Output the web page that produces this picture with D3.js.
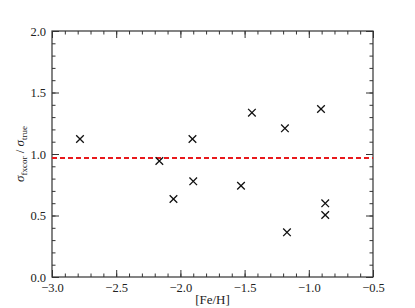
<!DOCTYPE html>
<html lang="en">
<head>
    <meta charset="UTF-8">
    <title>sigma ratio vs [Fe/H]</title>
    <script src="https://d3js.org/d3.v7.min.js"></script>
    <style>
        body { margin: 0; background: #fff; }
        svg text { font-family: "Liberation Serif", "Times New Roman", serif !important; fill: #222; }
    </style>
</head>
<body>
    <div id="chart"></div>
    <script>
        // data
        const feh = [-2.782, -2.164, -2.054, -1.906, -1.900, -1.528, -1.443, -1.186, -1.170, -0.905, -0.872, -0.872];
        const ratio = [1.122, 0.943, 0.634, 1.122, 0.778, 0.742, 1.336, 1.209, 0.363, 1.366, 0.599, 0.504];
        const meanRatio = 0.967;
        const xTicks = [-3.0, -2.5, -2.0, -1.5, -1.0, -0.5];
        const yTicks = [0.0, 0.5, 1.0, 1.5, 2.0];

        const width = 415, height = 308;
        const margin = { left: 52, right: 42, top: 31, bottom: 31 };

        const svg = d3.select("#chart").append("svg")
            .attr("width", width)
            .attr("height", height);

        const x = d3.scaleLinear().domain([-3, -0.5]).range([margin.left, width - margin.right]);
        const y = d3.scaleLinear().domain([0, 2]).range([height - margin.bottom, margin.top]);

        const axisColor = "#333";
        const minorX = d3.range(-3, -0.49, 0.1);
        const minorY = d3.range(0, 2.01, 0.1);

        // bottom / top axes, ticks pointing inward
        const bottomAxis = svg.append("g").attr("transform", `translate(0,${y(0)})`);
        bottomAxis.call(d3.axisTop(x).tickValues(minorX).tickSize(3.5).tickFormat(""));
        bottomAxis.append("g").call(d3.axisTop(x).tickValues(xTicks).tickSize(7).tickFormat(""));
        bottomAxis.append("g").call(d3.axisBottom(x).tickValues(xTicks).tickSize(0).tickPadding(6)
            .tickFormat(d => d3.format(".1f")(d).replace("-", "\u2212")));

        const topAxis = svg.append("g").attr("transform", `translate(0,${y(2)})`);
        topAxis.call(d3.axisBottom(x).tickValues(minorX).tickSize(3.5).tickFormat(""));
        topAxis.append("g").call(d3.axisBottom(x).tickValues(xTicks).tickSize(7).tickFormat(""));

        const leftAxis = svg.append("g").attr("transform", `translate(${x(-3)},0)`);
        leftAxis.call(d3.axisRight(y).tickValues(minorY).tickSize(3.5).tickFormat(""));
        leftAxis.append("g").call(d3.axisRight(y).tickValues(yTicks).tickSize(7).tickFormat(""));
        leftAxis.append("g").call(d3.axisLeft(y).tickValues(yTicks).tickSize(0).tickPadding(6)
            .tickFormat(d3.format(".1f")));

        const rightAxis = svg.append("g").attr("transform", `translate(${x(-0.5)},0)`);
        rightAxis.call(d3.axisLeft(y).tickValues(minorY).tickSize(3.5).tickFormat(""));
        rightAxis.append("g").call(d3.axisLeft(y).tickValues(yTicks).tickSize(7).tickFormat(""));

        svg.selectAll(".domain").remove();
        svg.selectAll("g").attr("font-family", null);
        svg.selectAll(".tick line").attr("stroke", axisColor).attr("stroke-width", 1);
        svg.selectAll(".tick text").attr("font-size", 12.5).attr("fill", "#222");

        // frame
        svg.append("rect")
            .attr("x", x(-3)).attr("y", y(2))
            .attr("width", x(-0.5) - x(-3)).attr("height", y(0) - y(2))
            .attr("fill", "none").attr("stroke", axisColor).attr("stroke-width", 1.2);

        // mean line
        svg.append("line")
            .attr("x1", x(-3)).attr("x2", x(-0.5))
            .attr("y1", y(meanRatio)).attr("y2", y(meanRatio))
            .attr("stroke", "#e8191c").attr("stroke-width", 2)
            .attr("stroke-dasharray", "5,3");

        // cross markers
        const pts = feh.map((d, i) => ({ x: d, y: ratio[i] }));
        const s = 3.8;
        svg.append("g").selectAll("path")
            .data(pts)
            .join("path")
            .attr("d", d => {
                const cx = x(d.x), cy = y(d.y);
                return `M${cx - s},${cy - s}L${cx + s},${cy + s}M${cx - s},${cy + s}L${cx + s},${cy - s}`;
            })
            .attr("stroke", "#111").attr("stroke-width", 1.3).attr("fill", "none");

        // axis labels
        svg.append("text")
            .attr("x", (x(-3) + x(-0.5)) / 2).attr("y", 304)
            .attr("text-anchor", "middle").attr("font-size", 13)
            .text("[Fe/H]");

        const ylab = svg.append("text")
            .attr("transform", `translate(24,${y(1)}) rotate(-90)`)
            .attr("text-anchor", "middle").attr("font-size", 13);
        ylab.append("tspan").attr("font-style", "italic").text("\u03c3");
        ylab.append("tspan").attr("font-size", 9).attr("dy", 3).text("fxcor");
        ylab.append("tspan").attr("dy", -3).text(" / ");
        ylab.append("tspan").attr("font-style", "italic").text("\u03c3");
        ylab.append("tspan").attr("font-size", 9).attr("dy", 3).text("true");
    </script>
</body>
</html>
